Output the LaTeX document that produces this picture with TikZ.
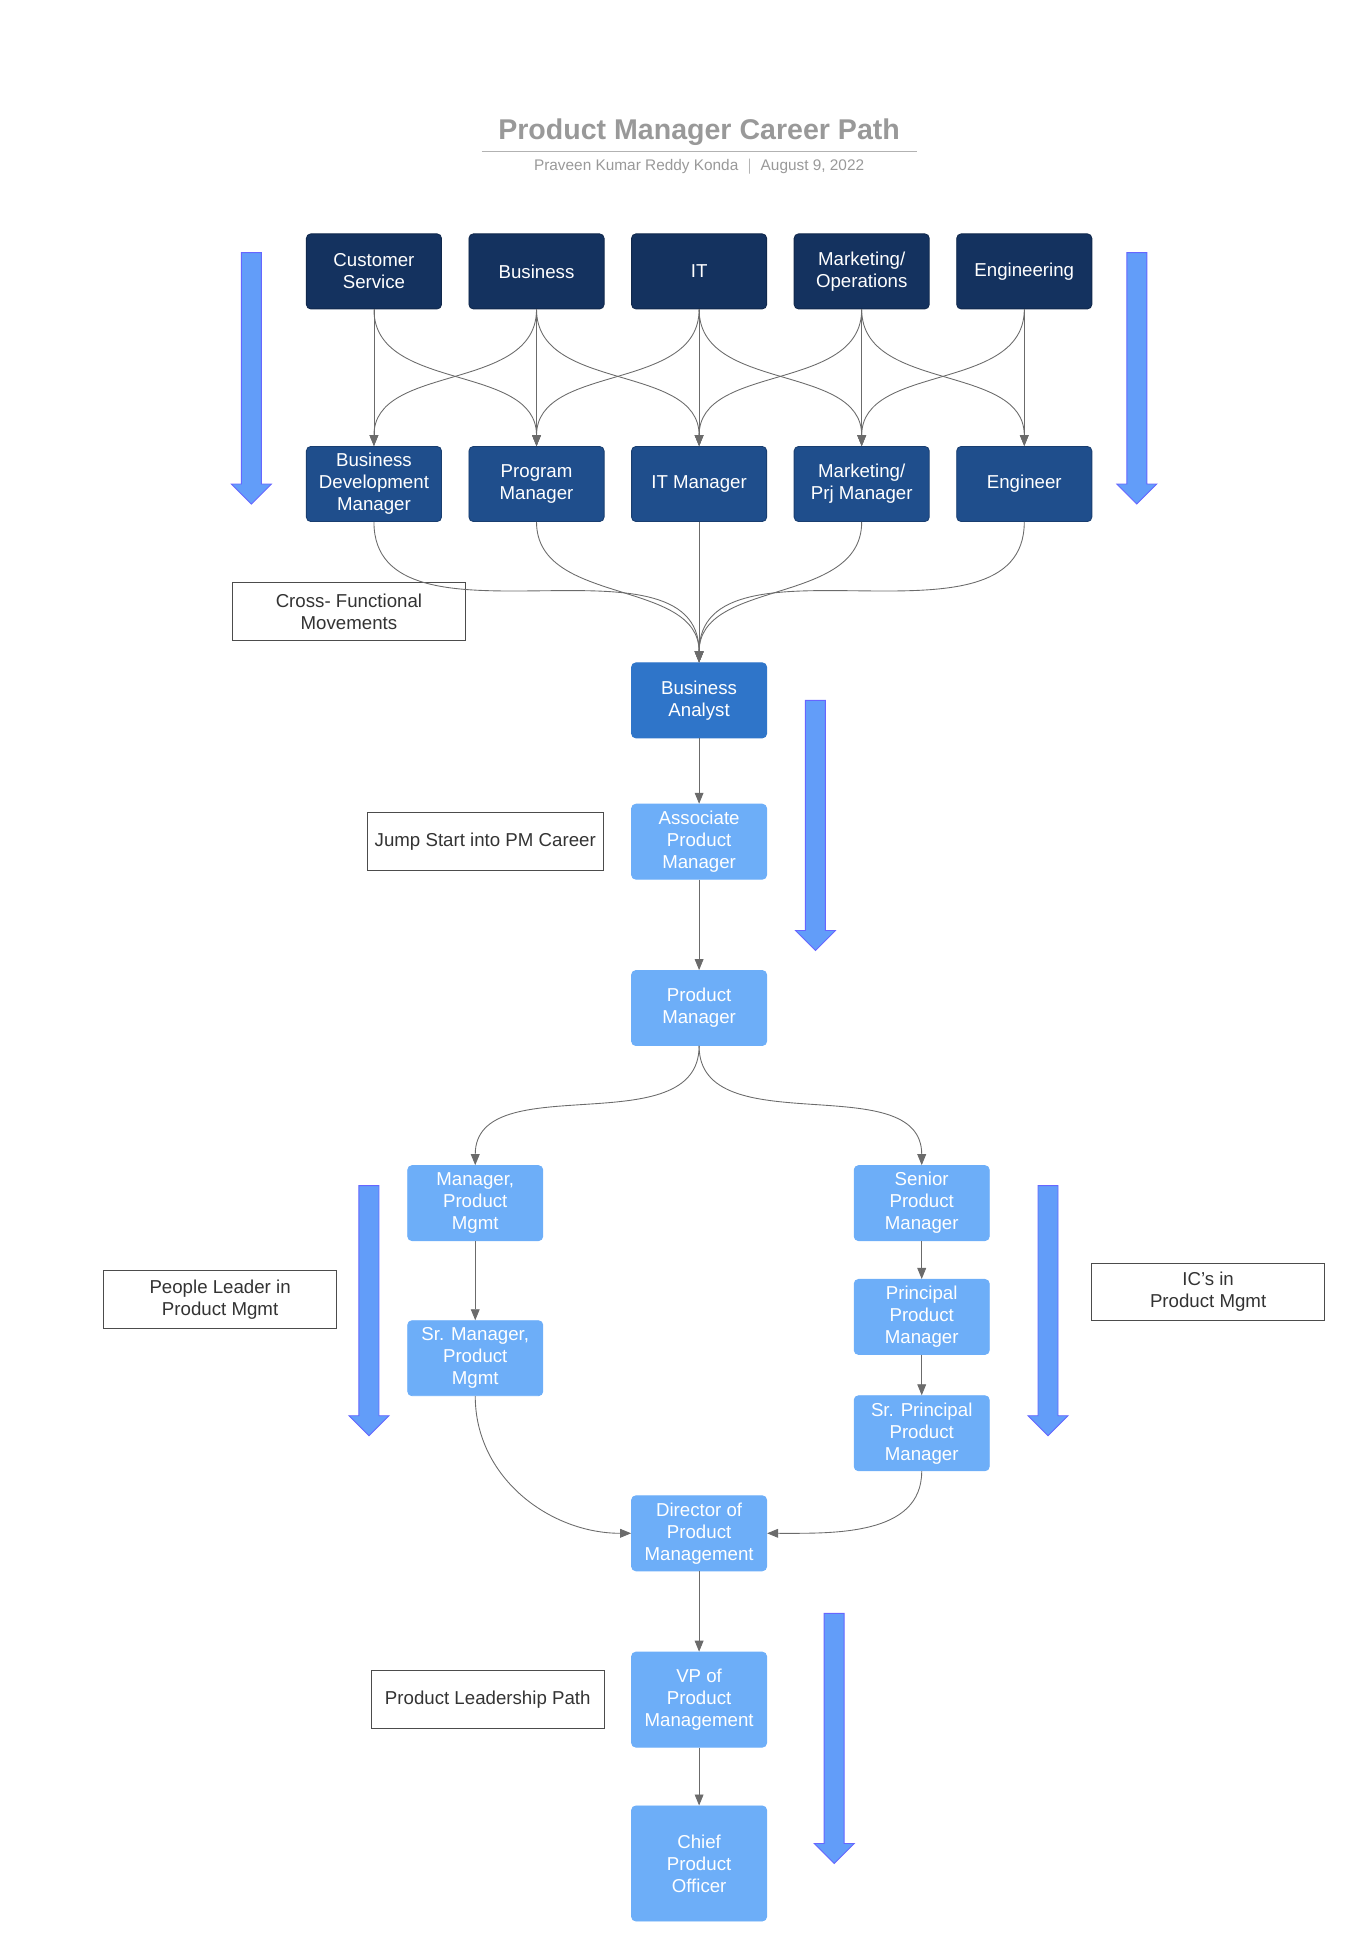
\documentclass[tikz,border=0pt]{standalone}
\usepackage{fontspec}
\setmainfont{Liberation Sans}
\usetikzlibrary{arrows.meta,positioning}

\definecolor{navy}{HTML}{14325F}
\definecolor{midblue}{HTML}{1F4E8C}
\definecolor{bablue}{HTML}{2F75C9}
\definecolor{light}{HTML}{6DAEF8}
\definecolor{linegray}{HTML}{6B6B6B}

\tikzset{
  box/.style={rounded corners=2pt, minimum width=108*0.02cm, minimum height=60*0.02cm,
    align=center, text=white, font=\fontsize{8.5}{10}\selectfont, inner sep=1pt},
  top/.style={box, fill=navy, draw=navy!80!black},
  mid/.style={box, fill=midblue, draw=midblue!80!black},
  light/.style={box, fill=light, draw=light},
  note/.style={draw=black!70, minimum width=186*0.02cm, minimum height=46*0.02cm,
    align=center, font=\fontsize{8.5}{10}\selectfont, text=black!80},
  link/.style={draw=linegray, thin, -{Triangle[length=5pt,width=4pt]}}
}
% big blue downward arrow
\newcommand\bigarrow[3]{%
  \fill[light!90!blue, draw=blue!60] (#1-8,#2) -- (#1+8,#2) -- (#1+8,#3-16) -- (#1+16,#3-16)
    -- (#1,#3) -- (#1-16,#3-16) -- (#1-8,#3-16) -- cycle;}

\begin{document}
\begin{tikzpicture}[x=0.02cm, y=-0.02cm]
    \useasboundingbox (0,0) rectangle (1085,1560);

    % Title
    \node[text=black!40, font=\bfseries\fontsize{13}{15}\selectfont] (title) at (559,106) {Product Manager Career Path};
    \draw[black!30] (385,121) -- (733,121);
    \node[text=black!40, font=\fontsize{7}{8}\selectfont] (sub) at (559,133) {Praveen Kumar Reddy Konda \ $|$ \ August 9, 2022};

    % Starting roles
    \node[top] (cs) at (299,217) {Customer\\Service};
    \node[top] (bus) at (429,217) {Business};
    \node[top] (it) at (559,217) {IT};
    \node[top] (mkt) at (689,217) {Marketing/\\Operations};
    \node[top] (eng) at (819,217) {Engineering};

    % Manager roles
    \node[mid] (bdm) at (299,387) {Business\\Development\\Manager};
    \node[mid] (prg) at (429,387) {Program\\Manager};
    \node[mid] (itm) at (559,387) {IT Manager};
    \node[mid] (mpm) at (689,387) {Marketing/\\Prj Manager};
    \node[mid] (egr) at (819,387) {Engineer};

    % PM track
    \node[box, fill=bablue, draw=bablue] (ba) at (559,560) {Business\\Analyst};
    \node[light] (apm) at (559,673) {Associate\\Product\\Manager};
    \node[light] (pm) at (559,806) {Product\\Manager};
    \node[light] (mgr) at (380,962) {Manager,\\Product\\Mgmt};
    \node[light] (srmgr) at (380,1086) {Sr. Manager,\\Product\\Mgmt};
    \node[light] (spm) at (737,962) {Senior\\Product\\Manager};
    \node[light] (ppm) at (737,1053) {Principal\\Product\\Manager};
    \node[light] (sppm) at (737,1146) {Sr. Principal\\Product\\Manager};
    \node[light] (dir) at (559,1226) {Director of\\Product\\Management};
    \node[light, minimum height=76*0.02cm] (vp) at (559,1359) {VP of\\Product\\Management};
    \node[light, minimum height=92*0.02cm] (cpo) at (559,1490) {Chief\\Product\\Officer};

    % Notes
    \node[note] (cross) at (279,489) {Cross- Functional\\Movements};
    \node[note] (jump) at (388,673) {Jump Start into PM Career};
    \node[note] (people) at (176,1039) {People Leader in\\Product Mgmt};
    \node[note] (ics) at (966,1033) {IC's in\\Product Mgmt};
    \node[note] (lead) at (390,1359) {Product Leadership Path};

    % Cross-functional links
    \foreach \a/\b in {cs/bdm,cs/prg,bus/bdm,bus/prg,bus/itm,it/prg,it/itm,it/mpm,
                       mkt/itm,mkt/mpm,mkt/egr,eng/mpm,eng/egr} {
        \draw[link] (\a.south) to[out=-90, in=90] (\b.north);
    }
    \foreach \a in {bdm,prg,itm,mpm,egr} {
        \draw[link] (\a.south) to[out=-90, in=90] (ba.north);
    }

    % Career steps
    \draw[link] (ba) -- (apm);
    \draw[link] (apm) -- (pm);
    \draw[link] (pm.south) to[out=-90, in=90] (mgr.north);
    \draw[link] (pm.south) to[out=-90, in=90] (spm.north);
    \draw[link] (mgr) -- (srmgr);
    \draw[link] (spm) -- (ppm);
    \draw[link] (ppm) -- (sppm);
    \draw[link] (srmgr.south) to[out=-90, in=180] (dir.west);
    \draw[link] (sppm.south) to[out=-90, in=0] (dir.east);
    \draw[link] (dir) -- (vp);
    \draw[link] (vp) -- (cpo);

    % Big arrows
    \bigarrow{201}{202}{403}
    \bigarrow{909}{202}{403}
    \bigarrow{652}{560}{760}
    \bigarrow{295}{948}{1148}
    \bigarrow{838}{948}{1148}
    \bigarrow{667}{1290}{1490}
\end{tikzpicture}
\end{document}
